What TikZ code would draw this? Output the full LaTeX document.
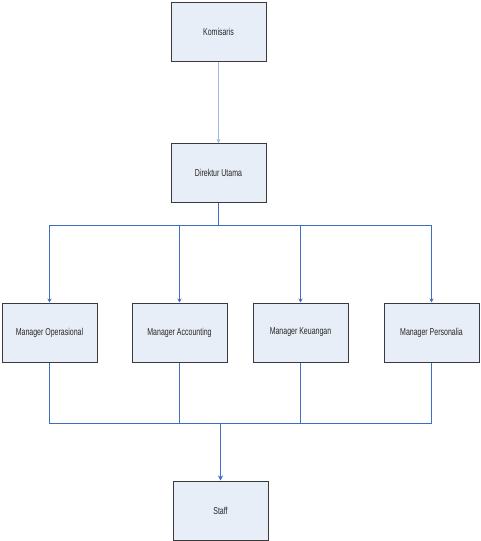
\documentclass[tikz,border=0pt]{standalone}
\usepackage{fontspec}
\setmainfont[FakeStretch=0.7]{Liberation Sans}
\usetikzlibrary{arrows.meta}
\definecolor{boxfill}{HTML}{E8EEF7}
\definecolor{boxline}{HTML}{3A3A3A}
\definecolor{conn}{HTML}{3D6EC4}
\definecolor{connlight}{HTML}{9DB9E4}
\tikzset{
  box/.style={draw=boxline, line width=1pt, fill=boxfill, minimum width=95pt, minimum height=59pt, inner sep=0pt, font=\fontsize{10pt}{12pt}\selectfont, text=black!85},
  link/.style={draw=conn, line width=1pt},
  arr/.style={link, -{Stealth[length=4pt,width=4pt]}},
}
\begin{document}
\begin{tikzpicture}[x=1pt,y=1pt]
\useasboundingbox (0,0) rectangle (481,-541);
\node[box] (kom) at (218.5,-31.5) {Komisaris};
\node[box] (dir) at (218.5,-173) {Direktur Utama};
\node[box] (mo) at (49.5,-332.5) {Manager Operasional};
\node[box] (ma) at (179.5,-332.5) {Manager Accounting};
\node[box] (mk) at (300.5,-332.5) {Manager Keuangan};
\node[box] (mp) at (431.5,-332.5) {Manager Personalia};
\node[box] (st) at (220.5,-510.5) {Staff};
\coordinate (bus) at (218.5,-225.5);
\coordinate (merge) at (220.5,-423.5);
\draw[connlight, line width=0.8pt, -{Stealth[length=4pt,width=4pt]}] (kom) -- (dir);
\draw[link] (dir) -- (bus);
\draw[arr] (bus) -| (mo);
\draw[arr] (bus) -| (ma);
\draw[arr] (bus) -| (mk);
\draw[arr] (bus) -| (mp);
\draw[link] (mo) |- (merge);
\draw[link] (ma) |- (merge);
\draw[link] (mk) |- (merge);
\draw[link] (mp) |- (merge);
\draw[link, line width=1.8pt, -{Stealth[length=5pt,width=5pt]}] (merge) -- (st);
\end{tikzpicture}
\end{document}
